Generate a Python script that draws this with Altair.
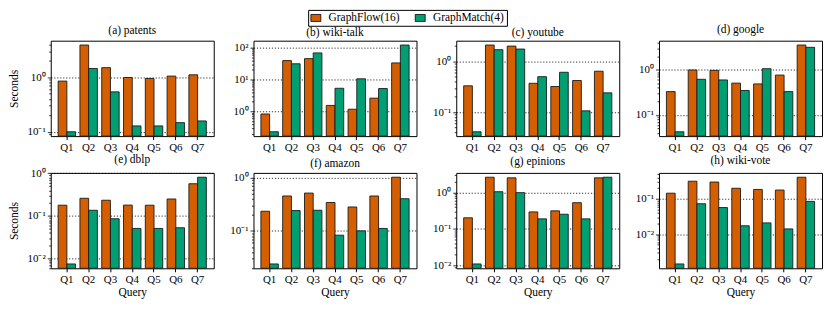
import math
import altair as alt
import pandas as pd

FONT = "Liberation Serif"

queries = ["Q1", "Q2", "Q3", "Q4", "Q5", "Q6", "Q7"]
series = ["GraphFlow(16)", "GraphMatch(4)"]
colors = ["#D55E00", "#009E73"]

datasets = ["patents", "wiki-talk", "youtube", "google", "dblp", "amazon", "epinions", "wiki-vote"]
letters = ["a", "b", "c", "d", "e", "f", "g", "h"]

gf_patents = [0.85, 3.9, 1.5, 0.99, 0.95, 1.05, 1.11]
gm_patents = [0.10, 1.45, 0.54, 0.128, 0.128, 0.147, 0.158]
gf_wikitalk = [0.83, 39, 45, 1.54, 1.17, 2.6, 33]
gm_wikitalk = [0.23, 31, 68, 5.3, 10.5, 5.2, 120]
gf_youtube = [0.33, 2.1, 2.0, 0.37, 0.32, 0.42, 0.64]
gm_youtube = [0.041, 1.7, 1.75, 0.50, 0.61, 0.106, 0.24]
gf_google = [0.33, 1.0, 0.98, 0.51, 0.49, 0.77, 3.6]
gm_google = [0.042, 0.62, 0.60, 0.35, 1.07, 0.33, 3.2]
gf_dblp = [0.179, 0.26, 0.234, 0.18, 0.179, 0.25, 0.57]
gm_dblp = [0.0075, 0.136, 0.086, 0.051, 0.051, 0.053, 0.81]
gf_amazon = [0.233, 0.45, 0.51, 0.34, 0.28, 0.45, 1.01]
gm_amazon = [0.024, 0.24, 0.243, 0.083, 0.10, 0.111, 0.40]
gf_epinions = [0.20, 2.6, 2.5, 0.29, 0.31, 0.52, 2.5]
gm_epinions = [0.0108, 1.04, 0.98, 0.187, 0.25, 0.187, 2.6]
gf_wikivote = [0.145, 0.316, 0.30, 0.20, 0.185, 0.178, 0.41]
gm_wikivote = [0.00145, 0.073, 0.057, 0.0174, 0.021, 0.0142, 0.085]

values = {
    "patents": (gf_patents, gm_patents),
    "wiki-talk": (gf_wikitalk, gm_wikitalk),
    "youtube": (gf_youtube, gm_youtube),
    "google": (gf_google, gm_google),
    "dblp": (gf_dblp, gm_dblp),
    "amazon": (gf_amazon, gm_amazon),
    "epinions": (gf_epinions, gm_epinions),
    "wiki-vote": (gf_wikivote, gm_wikivote),
}

W, H = 164, 96
YEXT = 28

LOGV = "(log(datum.value)/LN10)"
MAJOR = f"abs({LOGV} - round({LOGV})) < 0.001"
LABEL_EXPR = (
    f"({MAJOR}) ? '10' + (round({LOGV}) < 0 ? '⁻' : '') + "
    f"['⁰','¹','²','³','⁴'][abs(round({LOGV}))] : ''"
)

legend = alt.Legend(
    title=None, orient="none", legendX=259, legendY=-31, direction="horizontal",
    strokeColor="black", fillColor="white", padding=2, cornerRadius=0,
    labelFont=FONT, labelFontSize=11.5, labelColor="black", labelOffset=7,
    columnPadding=13, symbolType="M-1,-0.7L1,-0.7L1,0.7L-1,0.7Z", symbolSize=100,
    symbolStrokeColor="black", symbolStrokeWidth=0.8, symbolOpacity=1,
)


def panel(idx):
    name = datasets[idx]
    gf, gm = values[name]
    rows = []
    for s, vals in zip(series, (gf, gm)):
        for q, v in zip(queries, vals):
            rows.append({"Query": q, "Series": s, "Seconds": v})
    df = pd.DataFrame(rows)
    allv = gf + gm
    lmin, lmax = math.log10(min(allv)), math.log10(max(allv))
    m = 0.05 * (lmax - lmin)
    lo, hi = 10 ** (lmin - m), 10 ** (lmax + m)
    ticks = []
    for k in range(math.floor(math.log10(lo)), math.ceil(math.log10(hi)) + 1):
        for mm in range(1, 10):
            v = 10.0 ** k if mm == 1 else mm * 10.0 ** k
            if lo <= v <= hi:
                ticks.append(v)
    left = idx % 4 == 0
    bottom = idx >= 4
    return alt.Chart(df).mark_bar(stroke="#1a1a1a", strokeWidth=0.9).encode(
        x=alt.X("Query:N", sort=queries,
                scale=alt.Scale(paddingInner=0.2, paddingOuter=0.34),
                axis=alt.Axis(title="Query" if bottom else None, labelAngle=0,
                              tickSize=3.5, tickColor="black", domain=False,
                              labelPadding=2, titlePadding=2)),
        xOffset=alt.XOffset("Series:N", sort=series,
                            scale=alt.Scale(paddingInner=0, paddingOuter=0)),
        y=alt.Y("Seconds:Q",
                scale=alt.Scale(type="log", domain=[lo, hi], nice=False, zero=False),
                axis=alt.Axis(title="Seconds" if left else None, values=ticks,
                              labelExpr=LABEL_EXPR, labelOverlap=False, labelFlush=False,
                              domain=False, tickColor="black", tickWidth=0.8,
                              tickSize={"condition": {"test": MAJOR, "value": 3.5}, "value": 2},
                              grid=True, gridColor="black", gridDash=[1.2, 1.8], gridWidth=0.9,
                              gridOpacity={"condition": {"test": MAJOR, "value": 0.9}, "value": 0},
                              labelPadding=2, titlePadding=3,
                              minExtent=YEXT, maxExtent=YEXT)),
        y2=alt.datum(lo),
        color=alt.Color("Series:N", scale=alt.Scale(domain=series, range=colors), legend=legend),
    ).properties(
        width=W, height=H,
        title=alt.TitleParams(f"({letters[idx]}) {name}", frame="group"),
    )


row1 = alt.hconcat(*[panel(i) for i in range(4)], spacing=10).resolve_scale(color="shared")
row2 = alt.hconcat(*[panel(i) for i in range(4, 8)], spacing=10).resolve_scale(color="shared")

chart = alt.vconcat(row1, row2, spacing=0).resolve_scale(color="shared").properties(
    padding=0
).configure(font=FONT).configure_view(
    stroke="black", strokeWidth=1
).configure_axis(
    labelFont=FONT, titleFont=FONT, labelFontSize=11, titleFontSize=11.5,
    labelColor="black", titleColor="black", titleFontWeight="normal",
).configure_title(
    font=FONT, fontSize=11.5, fontWeight="normal", offset=2, anchor="middle", color="black",
)

chart.save("out.html", embed_options={"renderer": "svg", "actions": False})
